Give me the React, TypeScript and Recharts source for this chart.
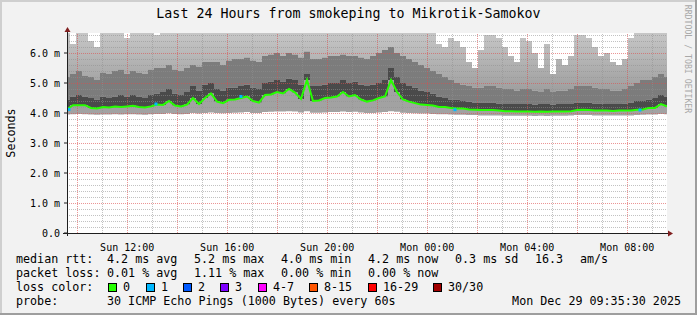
import { Area, ComposedChart, Line, ReferenceLine, Scatter, XAxis, YAxis } from "recharts"

const mono = "DejaVu Sans Mono, monospace"

// Sun 09:35:30 -> Mon 09:35:30, one sample every 14.4 minutes
const startHour = 9 + 35.5 / 60
const stepHour = 0.24

const median = [
  4.13, 4.26, 4.26, 4.26, 4.17, 4.15, 4.2, 4.18, 4.22, 4.2,
  4.22, 4.24, 4.2, 4.18, 4.22, 4.28, 4.27, 4.4, 4.25, 4.22,
  4.28, 4.5, 4.3, 4.5, 4.65, 4.38, 4.33, 4.44, 4.45, 4.5,
  4.55, 4.4, 4.35, 4.6, 4.62, 4.7, 4.65, 4.8, 4.68, 4.47,
  5.1, 4.4, 4.42, 4.5, 4.52, 4.55, 4.7, 4.55, 4.6, 4.45,
  4.38, 4.42, 4.5, 4.55, 5.1, 4.7, 4.45, 4.38, 4.33, 4.28,
  4.27, 4.25, 4.2, 4.2, 4.17, 4.15, 4.15, 4.12, 4.11, 4.1,
  4.1, 4.1, 4.08, 4.06, 4.06, 4.05, 4.05, 4.05, 4.04, 4.05,
  4.04, 4.05, 4.05, 4.05, 4.06, 4.1, 4.11, 4.1, 4.08, 4.08,
  4.08, 4.07, 4.08, 4.08, 4.08, 4.11, 4.12, 4.17, 4.17, 4.3,
  4.22,
]

// lowest ping of each sample
const low = [
  3.95, 3.96, 3.97, 3.96, 3.95, 3.94, 3.95, 3.95, 3.96, 3.95,
  3.96, 3.96, 3.95, 3.94, 3.96, 3.97, 3.97, 3.99, 3.97, 3.96,
  3.97, 4.0, 3.98, 4.0, 4.02, 4.0, 3.99, 4.0, 4.01, 4.02,
  4.03, 4.0, 4.0, 4.03, 4.04, 4.05, 4.05, 4.06, 4.05, 4.02,
  4.06, 4.01, 4.01, 4.02, 4.03, 4.03, 4.05, 4.03, 4.04, 4.02,
  4.0, 4.0, 4.02, 4.03, 4.06, 4.04, 4.01, 4.0, 3.99, 3.98,
  3.98, 3.97, 3.96, 3.96, 3.95, 3.94, 3.94, 3.93, 3.93, 3.92,
  3.92, 3.92, 3.92, 3.91, 3.91, 3.91, 3.91, 3.91, 3.9, 3.91,
  3.9, 3.91, 3.91, 3.91, 3.92, 3.93, 3.93, 3.93, 3.92, 3.92,
  3.92, 3.92, 3.92, 3.92, 3.92, 3.93, 3.94, 3.95, 3.95, 3.97,
  3.96,
]

// top of the dense smoke
const dense = [
  4.45, 4.55, 4.6, 4.55, 4.5, 4.45, 4.55, 4.5, 4.55, 4.6,
  4.55, 4.6, 4.55, 4.5, 4.6, 4.65, 4.7, 4.8, 4.65, 4.6,
  4.7, 4.9, 4.75, 4.95, 5.0, 4.8, 4.75, 4.85, 4.85, 4.9,
  4.95, 4.85, 4.8, 5.0, 5.05, 5.1, 5.05, 5.15, 5.1, 4.95,
  5.3, 4.9, 4.9, 4.95, 5.0, 5.0, 5.1, 5.0, 5.05, 4.95,
  4.9, 4.95, 5.0, 5.1, 5.5, 5.2, 5.0, 4.9, 4.85, 4.75,
  4.7, 4.65, 4.55, 4.5, 4.45, 4.45, 4.4, 4.38, 4.35, 4.35,
  4.35, 4.35, 4.32, 4.3, 4.3, 4.3, 4.3, 4.3, 4.28, 4.3,
  4.3, 4.28, 4.3, 4.3, 4.3, 4.35, 4.35, 4.35, 4.32, 4.32,
  4.3, 4.3, 4.3, 4.32, 4.35, 4.4, 4.4, 4.45, 4.5, 4.6,
  4.55,
]

// top of the medium smoke
const medium = [
  5.2, 5.3, 5.4, 5.25, 5.2, 5.1, 5.35, 5.3, 5.4, 5.45,
  5.3, 5.4, 5.35, 5.3, 5.45, 5.5, 5.5, 5.6, 5.45, 5.4,
  5.5, 5.6, 5.55, 5.7, 5.7, 5.7, 5.6, 5.75, 5.8, 5.8,
  5.85, 5.75, 5.7, 5.9, 5.95, 6.0, 5.9, 6.0, 5.95, 5.85,
  6.05, 5.8, 5.8, 5.85, 5.9, 5.9, 5.95, 5.9, 5.9, 5.85,
  5.8, 5.9, 6.0, 6.1, 6.2, 6.0, 5.9, 5.8, 5.7, 5.6,
  5.5, 5.4, 5.3, 5.2, 5.1, 5.0, 4.95, 4.9, 4.85, 4.85,
  4.9, 4.9, 4.85, 4.8, 4.8, 4.75, 4.8, 4.8, 4.75, 4.7,
  4.8, 4.7, 4.75, 4.75, 4.8, 4.9, 4.9, 4.9, 4.85, 4.8,
  4.8, 4.75, 4.75, 4.8, 4.9, 5.0, 5.1, 5.1, 5.2, 5.3,
  5.2,
]

// highest ping of each sample (clipped at the top of the graph)
const high = [
  6.9, 6.3, 6.8, 6.9, 6.4, 6.2, 6.9, 6.8, 6.7, 6.9,
  6.5, 6.9, 6.8, 6.9, 6.9, 6.6, 6.9, 6.9, 6.8, 6.9,
  6.9, 6.9, 6.9, 6.9, 6.9, 6.9, 6.9, 6.9, 6.9, 6.9,
  6.9, 6.9, 6.9, 6.9, 6.9, 6.9, 6.9, 6.9, 6.9, 6.9,
  6.9, 6.9, 6.9, 6.9, 6.9, 6.9, 6.9, 6.9, 6.9, 6.9,
  6.9, 6.9, 6.9, 6.9, 6.9, 6.9, 6.9, 6.9, 6.9, 6.9,
  6.9, 6.8, 6.3, 6.2, 6.5, 6.4, 6.2, 5.7, 5.5, 6.1,
  6.6, 6.6, 6.5, 6.2, 5.9, 5.7, 6.5, 6.4, 6.0, 5.5,
  6.3, 5.3, 5.8, 5.6, 5.9, 6.6, 6.6, 6.5, 6.2, 5.9,
  6.0, 5.7, 5.6, 5.8, 6.5, 6.9, 6.9, 6.9, 6.9, 6.9,
  6.9,
]

// samples with 1 lost ping
const lossOneHours = [9.67, 13.15, 16.55, 25.11, 32.51]
const lossOneValues = [4.12, 4.3, 4.55, 4.11, 4.1]

const timeTicks = [12, 16, 20, 24, 28, 32]
const timeLabels = ["Sun 12:00", "Sun 16:00", "Sun 20:00", "Mon 00:00", "Mon 04:00", "Mon 08:00"]
const valueTicks = [0, 1, 2, 3, 4, 5, 6]
const valueLabels = ["0.0", "1.0 m", "2.0 m", "3.0 m", "4.0 m", "5.0 m", "6.0 m"]

const lossColors = ["#26ff00", "#00b8ff", "#0059ff", "#7e00ff", "#ff00ff", "#ff5500", "#ff0000", "#a10000"]
const lossLabels = ["0", "1", "2", "3", "4-7", "8-15", "16-29", "30/30"]
const lossBoxX = [108, 146, 183, 220, 258, 309, 368, 433]

const rows = median.map((m, i) => ({
  t: startHour + i * stepHour,
  median: m,
  below: [low[i], m],
  core: [m, dense[i]],
  body: [dense[i], medium[i]],
  tail: [medium[i], high[i]],
}))

const lossPoints = lossOneHours.map((h, i) => ({ t: h, v: lossOneValues[i] }))

const minorLevels = Array.from({ length: 33 }, (_, k) => Math.round((k + 1) * 2) / 10).filter((v) => !Number.isInteger(v))
const hourLines = Array.from({ length: 24 }, (_, k) => 10 + k)

const minorGrid = "rgba(143,143,143,0.55)"
const majorGrid = "rgba(222,79,79,0.6)"

const LossSquare = (props: any) => (
  <rect x={props.cx - 1.5} y={props.cy - 1.5} width={3} height={3} fill="#00b8ff" />
)

export default function App() {
  return (
    <div style={{ position: "absolute", left: 0, top: 0, width: 697, height: 315, background: "#f2f2f2", overflow: "hidden" }}>
      <div style={{ position: "absolute", left: 67, top: 33, width: 600, height: 200, background: "#ffffff" }} />

      {/* smoke + axes */}
      <div style={{ position: "absolute", left: 0, top: 0 }}>
        <ComposedChart width={697} height={315} data={rows} margin={{ top: 33, right: 30, bottom: 62, left: 7 }}>
          <defs>
            <linearGradient id="tailFill" x1="0" y1="0" x2="0" y2="1">
              <stop offset="0%" stopColor="#cbcbcb" />
              <stop offset="100%" stopColor="#9e9e9e" />
            </linearGradient>
          </defs>
          <XAxis
            dataKey="t"
            type="number"
            domain={[startHour, startHour + 24]}
            ticks={timeTicks}
            tickFormatter={(v: number) => timeLabels[timeTicks.indexOf(v)]}
            axisLine={false}
            tickLine={false}
            tickMargin={5}
            height={20}
            tick={{ fontSize: 10, fontFamily: mono, fill: "#000" }}
            allowDataOverflow
          />
          <YAxis
            type="number"
            domain={[0, 20 / 3]}
            ticks={valueTicks}
            tickFormatter={(v: number) => valueLabels[valueTicks.indexOf(v)]}
            axisLine={false}
            tickLine={{ stroke: "#1f1f1f" }}
            tickSize={3}
            tickMargin={4}
            width={60}
            tick={{ fontSize: 10, fontFamily: mono, fill: "#000" }}
            allowDataOverflow
          />
          <Area dataKey="below" type="step" stroke="none" fill="#a2a2a2" fillOpacity={1} isAnimationActive={false} />
          <Area dataKey="tail" type="step" stroke="none" fill="url(#tailFill)" fillOpacity={1} isAnimationActive={false} />
          <Area dataKey="body" type="step" stroke="none" fill="#7c7c7c" fillOpacity={1} isAnimationActive={false} />
          <Area dataKey="core" type="step" stroke="none" fill="#4a4a4a" fillOpacity={1} isAnimationActive={false} />
        </ComposedChart>
      </div>

      {/* grid on top of the smoke, then median */}
      <div style={{ position: "absolute", left: 0, top: 0 }}>
        <ComposedChart width={697} height={315} data={rows} margin={{ top: 33, right: 30, bottom: 82, left: 67 }}>
          <XAxis dataKey="t" type="number" domain={[startHour, startHour + 24]} hide allowDataOverflow />
          <YAxis type="number" domain={[0, 20 / 3]} hide allowDataOverflow />
          {minorLevels.map((v) => (
            <ReferenceLine key={"my" + v} y={v} stroke={minorGrid} strokeDasharray="1 1" shapeRendering="crispEdges" />
          ))}
          {hourLines.filter((h) => h % 2 === 1).map((h) => (
            <ReferenceLine key={"mx" + h} x={h} stroke={minorGrid} strokeDasharray="1 1" shapeRendering="crispEdges" />
          ))}
          {valueTicks.filter((v) => v > 0).map((v) => (
            <ReferenceLine key={"My" + v} y={v} stroke={majorGrid} strokeDasharray="1 1" shapeRendering="crispEdges" />
          ))}
          {hourLines.filter((h) => h % 2 === 0).map((h) => (
            <ReferenceLine key={"Mx" + h} x={h} stroke={majorGrid} strokeDasharray="1 1" shapeRendering="crispEdges" />
          ))}
          <Line dataKey="median" type="linear" stroke="#26ff00" strokeWidth={2} dot={false} isAnimationActive={false} />
          <Scatter data={lossPoints} dataKey="v" shape={LossSquare} isAnimationActive={false} />
        </ComposedChart>
      </div>

      <svg width={697} height={315} style={{ position: "absolute", left: 0, top: 0, pointerEvents: "none" }} fontFamily={mono}>
        <rect x={0} y={0} width={697} height={2} fill="#cfcfcf" />
        <rect x={0} y={0} width={2} height={315} fill="#cfcfcf" />
        <rect x={0} y={313} width={697} height={2} fill="#9e9e9e" />
        <rect x={695} y={0} width={2} height={315} fill="#9e9e9e" />

        <line x1={67.5} y1={236} x2={67.5} y2={30} stroke="#1f1f1f" />
        <line x1={63} y1={233.5} x2={669} y2={233.5} stroke="#1f1f1f" />
        <polygon points="64.5,32 70.5,32 67.5,27" fill="#801f1f" />
        <polygon points="668,230.5 668,236.5 673,233.5" fill="#801f1f" />

        <text x={348.5} y={18} textAnchor="middle" fontSize={13.3} fill="#000">
          Last 24 Hours from smokeping to Mikrotik-Samokov
        </text>
        <text x={15} y={133} transform="rotate(-90 15 133)" textAnchor="middle" fontSize={11.7} fill="#000">
          Seconds
        </text>
        <text x={685} y={59} transform="rotate(90 685 59)" textAnchor="middle" fontSize={8.2} fill="#a8a8a8">
          RRDTOOL / TOBI OETIKER
        </text>

        <g fontSize={11.7} fill="#000">
          <text x={16} y={263}>median rtt:</text>
          <text x={107} y={263}>4.2 ms avg</text>
          <text x={194} y={263}>5.2 ms max</text>
          <text x={281} y={263}>4.0 ms min</text>
          <text x={368} y={263}>4.2 ms now</text>
          <text x={455} y={263}>0.3 ms sd</text>
          <text x={535} y={263}>16.3</text>
          <text x={580} y={263}>am/s</text>

          <text x={16} y={277}>packet loss:</text>
          <text x={107} y={277}>0.01 % avg</text>
          <text x={194} y={277}>1.11 % max</text>
          <text x={281} y={277}>0.00 % min</text>
          <text x={368} y={277}>0.00 % now</text>

          <text x={16} y={291}>loss color:</text>
          {lossLabels.map((l, i) => (
            <g key={l}>
              <rect x={lossBoxX[i] + 0.5} y={283.5} width={8} height={8} fill={lossColors[i]} stroke="#000" />
              <text x={lossBoxX[i] + 15} y={291}>{l}</text>
            </g>
          ))}

          <text x={16} y={305}>probe:</text>
          <text x={107} y={305}>30 ICMP Echo Pings (1000 Bytes) every 60s</text>
          <text x={681} y={305} textAnchor="end">Mon Dec 29 09:35:30 2025</text>
        </g>
      </svg>
    </div>
  )
}
